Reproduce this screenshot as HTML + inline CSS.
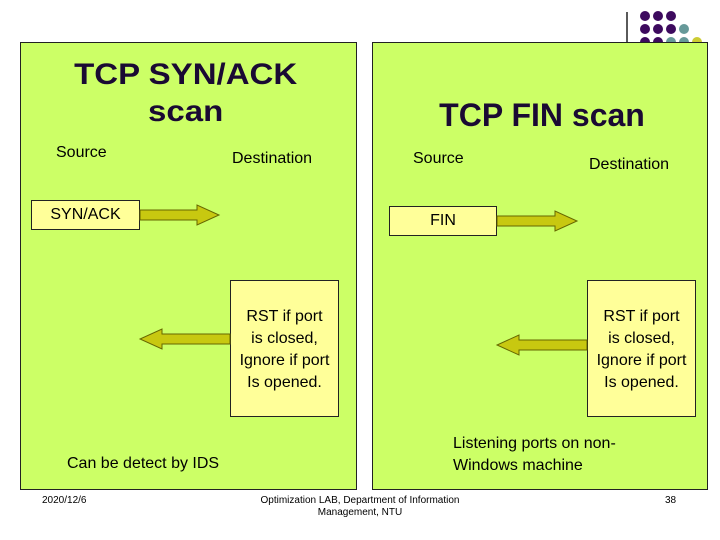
<!DOCTYPE html>
<html><head><style>
body{margin:0;width:720px;height:540px;background:#fff;position:relative;overflow:hidden;font-family:"Liberation Sans",sans-serif;}
.p{position:absolute;background:#ccff66;border:1px solid #222;}
.t{position:absolute;color:#000;white-space:nowrap;}
.b{position:absolute;background:#ffff99;border:1px solid #222;box-sizing:border-box;text-align:center;font-size:16px;}
</style></head><body>
<svg style="position:absolute;left:0;top:0" width="720" height="540">
<line x1="627" y1="12" x2="627" y2="44" stroke="#000" stroke-width="1.3"/>
<g fill="#3d0a5e"><circle cx="645" cy="16" r="5"/><circle cx="658" cy="16" r="5"/><circle cx="671" cy="16" r="5"/>
<circle cx="645" cy="29" r="5"/><circle cx="658" cy="29" r="5"/><circle cx="671" cy="29" r="5"/>
<circle cx="645" cy="42" r="5"/><circle cx="658" cy="42" r="5"/></g>
<g fill="#669999"><circle cx="684" cy="29" r="5"/><circle cx="671" cy="42" r="5"/><circle cx="684" cy="42" r="5"/></g>
<circle cx="697" cy="42" r="5" fill="#cccc33"/>
</svg>
<div class="p" style="left:20px;top:42px;width:335px;height:446px"></div>
<div class="p" style="left:372px;top:42px;width:334px;height:446px"></div>
<div class="t" style="left:20px;top:56px;width:335px;text-align:center;font-size:30px;line-height:37px;font-weight:bold;color:#1a0a33;transform:scaleX(1.1);transform-origin:186px 0">TCP SYN/ACK<br>scan</div>
<div class="t" style="left:56px;top:144px;font-size:16px">Source</div>
<div class="t" style="left:232px;top:150px;font-size:16px">Destination</div>
<div class="t" style="left:372px;top:97px;width:340px;text-align:center;font-size:32px;font-weight:bold;color:#1a0a33">TCP FIN scan</div>
<div class="t" style="left:413px;top:150px;font-size:16px">Source</div>
<div class="t" style="left:589px;top:156px;font-size:16px">Destination</div>
<div class="b" style="left:31px;top:200px;width:109px;height:30px;line-height:28px">SYN/ACK</div>
<div class="b" style="left:389px;top:206px;width:108px;height:30px;line-height:28px">FIN</div>
<div class="b" style="left:230px;top:280px;width:109px;height:137px;padding-top:25px;line-height:22px">RST if port<br>is closed,<br>Ignore if port<br>Is opened.</div>
<div class="b" style="left:587px;top:280px;width:109px;height:137px;padding-top:25px;line-height:22px">RST if port<br>is closed,<br>Ignore if port<br>Is opened.</div>
<svg style="position:absolute;left:0;top:0" width="720" height="540">
<g fill="#c8c810" stroke="#666600" stroke-width="1">
<polygon points="140,210 197,210 197,205 219,215 197,225 197,220 140,220"/>
<polygon points="497,216 555,216 555,211 577,221 555,231 555,226 497,226"/>
<polygon points="230,334 162,334 162,329 140,339 162,349 162,344 230,344"/>
<polygon points="587,340 519,340 519,335 497,345 519,355 519,350 587,350"/>
</g></svg>
<div class="t" style="left:67px;top:455px;font-size:16px">Can be detect by IDS</div>
<div class="t" style="left:453px;top:433px;font-size:16px;line-height:22px">Listening ports on non-<br>Windows machine</div>
<div class="t" style="left:42px;top:495px;font-size:10px">2020/12/6</div>
<div class="t" style="left:255px;top:495px;width:210px;text-align:center;font-size:10px;line-height:12px">Optimization LAB, Department of Information<br>Management, NTU</div>
<div class="t" style="left:665px;top:495px;font-size:10px">38</div>
</body></html>
